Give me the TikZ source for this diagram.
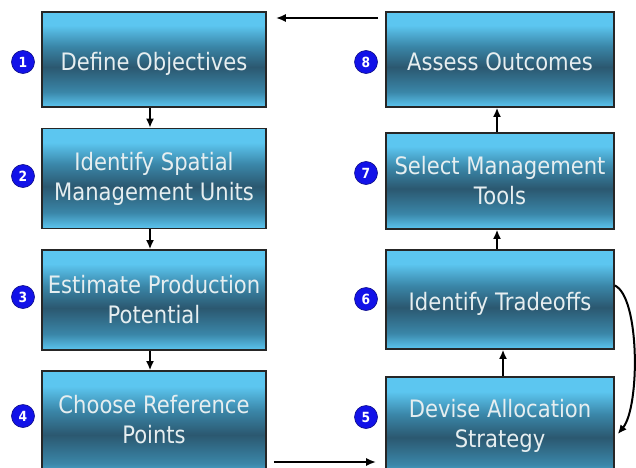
\documentclass[tikz,border=0pt]{standalone}
\usepackage{fontspec}
\setmainfont{DejaVu Sans}[FakeStretch=0.88]
\usetikzlibrary{arrows.meta}
\definecolor{boxlight}{HTML}{5CC6F0}
\definecolor{boxmid}{HTML}{3A86A8}
\definecolor{boxdark}{HTML}{2B5870}
\definecolor{txt}{HTML}{E6EEF0}
\definecolor{numblue}{HTML}{1212E8}
\pgfdeclareverticalshading{boxshade}{100bp}{color(0bp)=(boxlight); color(25bp)=(boxlight); color(33bp)=(boxmid); color(46bp)=(boxdark); color(57bp)=(boxmid); color(68bp)=(boxlight); color(75bp)=(boxlight); color(100bp)=(boxlight)}
\tikzset{
  stepbox/.style={draw=black!85, line width=1.6pt, shading=boxshade,
    text=txt, align=center, font=\fontsize{24}{30}\selectfont, inner sep=0pt, minimum width=224pt},
  oneline/.style={text height=22pt, text depth=0pt},
  num/.style={circle, fill=numblue, draw=numblue!60!black, line width=0.6pt, text=white, font=\fontsize{14}{14}\selectfont\bfseries, minimum size=23pt, inner sep=0pt},
  arr/.style={-{Latex[length=9pt,width=8pt]}, line width=2pt, black},
  harr/.style={-{Latex[length=10pt,width=8pt]}, line width=2.4pt, black}
}
\begin{document}
\begin{tikzpicture}[x=1pt,y=1pt]
\useasboundingbox (0,0) rectangle (636,467);
\clip (0,0) rectangle (636,467);
% left column (y = 467 - pagey)
\node[stepbox, oneline, minimum height=95pt] (b1) at (154,407.5) {Define Objectives};
\node[stepbox, minimum height=100pt] (b2) at (154,288.5) {Identify Spatial\\Management Units};
\node[stepbox, minimum height=100pt] (b3) at (154,167) {Estimate Production\\Potential};
\node[stepbox, minimum height=110pt] (b4) at (154,41) {Choose Reference\\Points\rule[-14pt]{0pt}{14pt}};
% right column
\node[stepbox, oneline, minimum width=228pt, minimum height=95pt] (b8) at (500,407.5) {Assess Outcomes};
\node[stepbox, minimum width=228pt, minimum height=96pt] (b7) at (500,286) {Select Management\\Tools};
\node[stepbox, oneline, minimum width=228pt, minimum height=99pt] (b6) at (500,167.5) {Identify Tradeoffs};
\node[stepbox, minimum width=228pt, minimum height=104pt] (b5) at (500,38) {Devise Allocation\\Strategy\rule[-12pt]{0pt}{12pt}};
% numbers
\node[num] (n1) at (23,405) {1};
\node[num] (n2) at (23,291) {2};
\node[num] (n3) at (23,170) {3};
\node[num] (n4) at (23,51) {4};
\node[num] (n8) at (366,405) {8};
\node[num] (n7) at (366,294) {7};
\node[num] (n6) at (366,168) {6};
\node[num] (n5) at (366,50) {5};
% vertical arrows
\draw[arr] ([xshift=-4pt]b1.south) -- ([xshift=-4pt]b2.north);
\draw[arr] ([xshift=-4pt]b2.south) -- ([xshift=-4pt]b3.north);
\draw[arr] ([xshift=-4pt]b3.south) -- ([xshift=-4pt]b4.north);
\draw[arr] ([xshift=3pt]b5.north) -- ([xshift=3pt]b6.south);
\draw[arr] ([xshift=-3pt]b6.north) -- ([xshift=-3pt]b7.south);
\draw[arr] ([xshift=-3pt]b7.north) -- ([xshift=-3pt]b8.south);
% horizontal arrows
\draw[harr] ([xshift=7pt]b4.east |- 0,5) -- ([xshift=-9pt]b5.west |- 0,5);
\draw[harr] ([xshift=-7pt]b8.west |- 0,449) -- ([xshift=9pt]b1.east |- 0,449);
% curved arrow from 6 to 5
\draw[-{Latex[length=9pt,width=8pt]}, line width=2pt] ([yshift=14pt]b6.east) .. controls (640,170) and (640,60) .. ([xshift=3pt,yshift=-5pt]b5.east);
\end{tikzpicture}
\end{document}
